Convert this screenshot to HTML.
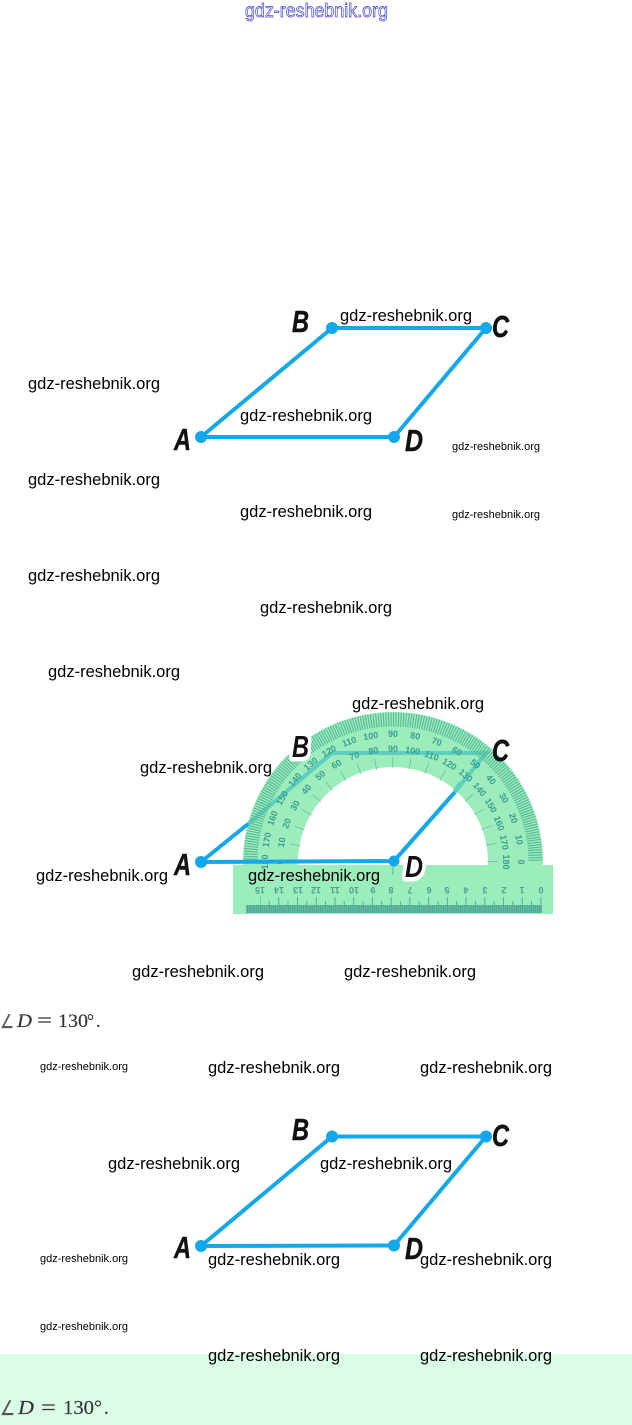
<!DOCTYPE html>
<html><head><meta charset="utf-8"><style>
html,body{margin:0;padding:0;background:#fff}
svg{display:block}
.w{font:16.5px "Liberation Sans",sans-serif;fill:#000}
.s{font:11px "Liberation Sans",sans-serif;fill:#000}
.l{font:italic bold 31px "Liberation Sans",sans-serif;fill:#111;stroke:#111;stroke-width:.5}
.m{font-family:"Liberation Serif",serif;fill:#333;stroke:#333;stroke-width:.15}
.o{font:bold 9px "Liberation Sans",sans-serif;fill:#3a9e92;text-anchor:middle}
.i{font:bold 9px "Liberation Sans",sans-serif;fill:#3a9e92;text-anchor:middle}
.r{font:bold 9px "Liberation Sans",sans-serif;fill:#4aa092;text-anchor:middle}
</style></head><body>
<svg xmlns="http://www.w3.org/2000/svg" width="632" height="1425" viewBox="0 0 632 1425">
<rect x="0" y="1354" width="632" height="71" fill="#dbfde8"/>

<text x="245" y="17" textLength="143" lengthAdjust="spacingAndGlyphs" style="font:19px 'Liberation Sans',sans-serif;fill:#fff;stroke:#4040d8;stroke-width:.7">gdz-reshebnik.org</text>

<!-- Figure 1 -->
<g fill="none" stroke="#14a8ea" stroke-width="4" stroke-linejoin="round"><path d="M201 437L332 328L486 328L394 437Z"/></g>
<g fill="#14a8ea"><circle cx="201" cy="437" r="6"/><circle cx="332" cy="328" r="6"/><circle cx="486" cy="328" r="6"/><circle cx="394" cy="437" r="6"/></g>
<text class="l" x="174" y="450" textLength="17" lengthAdjust="spacingAndGlyphs">A</text>
<text class="l" x="292" y="332" textLength="17" lengthAdjust="spacingAndGlyphs">B</text>
<text class="l" x="492" y="337" textLength="17" lengthAdjust="spacingAndGlyphs">C</text>
<text class="l" x="405" y="451" textLength="18" lengthAdjust="spacingAndGlyphs">D</text>

<!-- Figure 2: protractor -->
<path d="M243 866L243 862A150 150 0 0 1 543 862L543 866L488 866L488 862A95 95 0 0 0 298 862L298 866Z" fill="#9cecbc"/>
<rect x="233" y="865" width="320" height="49" fill="#9cedbc"/>
<path d="M250.500 862A142.500 142.500 0 0 1 535.500 862" fill="none" stroke="#9cecbc" stroke-width="15"/>
<path d="M248 824L332 753L486 753L455 792" fill="none" stroke="#5ccfc0" stroke-width="4"/>
<path d="M250.500 862A142.500 142.500 0 0 1 535.500 862" fill="none" stroke="#55ba98" stroke-width="14" pathLength="180" stroke-dasharray=".45 .55"/>
<path d="M293.500 862A99.500 99.500 0 0 1 492.500 862" fill="none" stroke="#5fb8a0" stroke-width="11" pathLength="180" stroke-dasharray=".4 9.600" stroke-dashoffset=".2"/>

<!-- outer scale -->
<g>
<text class="o" x="393" y="737" transform="rotate(-90 393 862)">180</text>
<text class="o" x="393" y="737" transform="rotate(-80 393 862)">170</text>
<text class="o" x="393" y="737" transform="rotate(-70 393 862)">160</text>
<text class="o" x="393" y="737" transform="rotate(-60 393 862)">150</text>
<text class="o" x="393" y="737" transform="rotate(-50 393 862)">140</text>
<text class="o" x="393" y="737" transform="rotate(-40 393 862)">130</text>
<text class="o" x="393" y="737" transform="rotate(-30 393 862)">120</text>
<text class="o" x="393" y="737" transform="rotate(-20 393 862)">110</text>
<text class="o" x="393" y="737" transform="rotate(-10 393 862)">100</text>
<text class="o" x="393" y="737">90</text>
<text class="o" x="393" y="737" transform="rotate(10 393 862)">80</text>
<text class="o" x="393" y="737" transform="rotate(20 393 862)">70</text>
<text class="o" x="393" y="737" transform="rotate(30 393 862)">60</text>
<text class="o" x="393" y="737" transform="rotate(40 393 862)">50</text>
<text class="o" x="393" y="737" transform="rotate(50 393 862)">40</text>
<text class="o" x="393" y="737" transform="rotate(60 393 862)">30</text>
<text class="o" x="393" y="737" transform="rotate(70 393 862)">20</text>
<text class="o" x="393" y="737" transform="rotate(80 393 862)">10</text>
<text class="o" x="393" y="737" transform="rotate(90 393 862)">0</text>
</g>
<!-- inner scale -->
<g>
<text class="i" x="393" y="752" transform="rotate(-90 393 862)">0</text>
<text class="i" x="393" y="752" transform="rotate(-80 393 862)">10</text>
<text class="i" x="393" y="752" transform="rotate(-70 393 862)">20</text>
<text class="i" x="393" y="752" transform="rotate(-60 393 862)">30</text>
<text class="i" x="393" y="752" transform="rotate(-50 393 862)">40</text>
<text class="i" x="393" y="752" transform="rotate(-40 393 862)">50</text>
<text class="i" x="393" y="752" transform="rotate(-30 393 862)">60</text>
<text class="i" x="393" y="752" transform="rotate(-20 393 862)">70</text>
<text class="i" x="393" y="752" transform="rotate(-10 393 862)">80</text>
<text class="i" x="393" y="752">90</text>
<text class="i" x="393" y="752" transform="rotate(10 393 862)">100</text>
<text class="i" x="393" y="752" transform="rotate(20 393 862)">110</text>
<text class="i" x="393" y="752" transform="rotate(30 393 862)">120</text>
<text class="i" x="393" y="752" transform="rotate(40 393 862)">130</text>
<text class="i" x="393" y="752" transform="rotate(50 393 862)">140</text>
<text class="i" x="393" y="752" transform="rotate(60 393 862)">150</text>
<text class="i" x="393" y="752" transform="rotate(70 393 862)">160</text>
<text class="i" x="393" y="752" transform="rotate(80 393 862)">170</text>
<text class="i" x="393" y="752" transform="rotate(90 393 862)">180</text>
</g>

<!-- ruler -->
<rect x="246" y="905" width="296" height="8" fill="#6cc0a8"/>
<path d="M541.500 909H246" stroke="#4aa493" stroke-width="8" stroke-dasharray="1 .87" fill="none"/>
<path d="M541.500 901H260" stroke="#55ad9a" stroke-width="8" stroke-dasharray="1 17.730" fill="none"/>
<path d="M532 903H260" stroke="#55ad9a" stroke-width="4" stroke-dasharray="1 17.730" fill="none"/>
<path d="M393 865V875" stroke="#55ad9a" stroke-width="1" fill="none"/>
<text class="r" x="541" y="893" transform="rotate(180 541 890)">0</text>
<text class="r" x="522" y="893" transform="rotate(180 522 890)">1</text>
<text class="r" x="504" y="893" transform="rotate(180 504 890)">2</text>
<text class="r" x="485" y="893" transform="rotate(180 485 890)">3</text>
<text class="r" x="466" y="893" transform="rotate(180 466 890)">4</text>
<text class="r" x="447" y="893" transform="rotate(180 447 890)">5</text>
<text class="r" x="429" y="893" transform="rotate(180 429 890)">6</text>
<text class="r" x="410" y="893" transform="rotate(180 410 890)">7</text>
<text class="r" x="391" y="893" transform="rotate(180 391 890)">8</text>
<text class="r" x="373" y="893" transform="rotate(180 373 890)">9</text>
<text class="r" x="354" y="893" transform="rotate(180 354 890)">10</text>
<text class="r" x="335" y="893" transform="rotate(180 335 890)">11</text>
<text class="r" x="316" y="893" transform="rotate(180 316 890)">12</text>
<text class="r" x="298" y="893" transform="rotate(180 298 890)">13</text>
<text class="r" x="279" y="893" transform="rotate(180 279 890)">14</text>
<text class="r" x="260" y="893" transform="rotate(180 260 890)">15</text>

<!-- solid blue on top -->
<path d="M248 824L201 862L394 861L455 792" fill="none" stroke="#14a8ea" stroke-width="4" stroke-linejoin="round"/>
<circle cx="201" cy="862" r="6" fill="#14a8ea"/>
<circle cx="394" cy="861" r="5.500" fill="#14a8ea"/>
<text class="l" x="174" y="875" textLength="17" lengthAdjust="spacingAndGlyphs">A</text>
<text class="l" x="292" y="757" textLength="17" lengthAdjust="spacingAndGlyphs" style="stroke:#fff;stroke-width:9;paint-order:stroke;stroke-linejoin:round">B</text>
<text class="l" x="492" y="761" textLength="17" lengthAdjust="spacingAndGlyphs">C</text>
<text class="l" x="405" y="877" textLength="18" lengthAdjust="spacingAndGlyphs" style="stroke:#fff;stroke-width:9;paint-order:stroke;stroke-linejoin:round">D</text>

<!-- Figure 3 -->
<g fill="none" stroke="#14a8ea" stroke-width="4" stroke-linejoin="round"><path d="M201 1246L332 1136.500L486 1136.500L394 1245.500Z"/></g>
<g fill="#14a8ea"><circle cx="201" cy="1246" r="6"/><circle cx="332" cy="1136.500" r="6"/><circle cx="486" cy="1136.500" r="6"/><circle cx="394" cy="1245.500" r="6"/></g>
<text class="l" x="174" y="1258" textLength="17" lengthAdjust="spacingAndGlyphs">A</text>
<text class="l" x="292" y="1140" textLength="17" lengthAdjust="spacingAndGlyphs">B</text>
<text class="l" x="492" y="1146" textLength="17" lengthAdjust="spacingAndGlyphs">C</text>
<text class="l" x="405" y="1259" textLength="18" lengthAdjust="spacingAndGlyphs">D</text>

<!-- math -->
<text class="m" x="0" y="1028" font-size="19" textLength="14" lengthAdjust="spacingAndGlyphs" fill-opacity=".8">∠</text>
<text class="m" x="17" y="1027" font-size="19" font-style="italic" textLength="15" lengthAdjust="spacingAndGlyphs">D</text>
<text class="m" x="37" y="1027" font-size="20" textLength="15" lengthAdjust="spacingAndGlyphs">=</text>
<text class="m" x="58" y="1027" font-size="19" textLength="30" lengthAdjust="spacingAndGlyphs">130</text>
<text class="m" x="87" y="1027" font-size="19" textLength="7" lengthAdjust="spacingAndGlyphs">°</text>
<text class="m" x="96" y="1027" font-size="18">.</text>

<text class="m" x="0" y="1415" font-size="20" textLength="15" lengthAdjust="spacingAndGlyphs" fill-opacity=".8">∠</text>
<text class="m" x="18" y="1414" font-size="20" font-style="italic" textLength="16" lengthAdjust="spacingAndGlyphs">D</text>
<text class="m" x="41" y="1414" font-size="21" textLength="15" lengthAdjust="spacingAndGlyphs">=</text>
<text class="m" x="63" y="1414" font-size="20" textLength="31" lengthAdjust="spacingAndGlyphs">130</text>
<text class="m" x="94" y="1414" font-size="20" textLength="8" lengthAdjust="spacingAndGlyphs">°</text>
<text class="m" x="104" y="1414" font-size="19">.</text>

<!-- watermarks large -->
<text class="w" x="340" y="321" textLength="132" lengthAdjust="spacingAndGlyphs">gdz-reshebnik.org</text>
<text class="w" x="28" y="389" textLength="132" lengthAdjust="spacingAndGlyphs">gdz-reshebnik.org</text>
<text class="w" x="240" y="421" textLength="132" lengthAdjust="spacingAndGlyphs">gdz-reshebnik.org</text>
<text class="w" x="28" y="485" textLength="132" lengthAdjust="spacingAndGlyphs">gdz-reshebnik.org</text>
<text class="w" x="240" y="517" textLength="132" lengthAdjust="spacingAndGlyphs">gdz-reshebnik.org</text>
<text class="w" x="28" y="581" textLength="132" lengthAdjust="spacingAndGlyphs">gdz-reshebnik.org</text>
<text class="w" x="260" y="613" textLength="132" lengthAdjust="spacingAndGlyphs">gdz-reshebnik.org</text>
<text class="w" x="48" y="677" textLength="132" lengthAdjust="spacingAndGlyphs">gdz-reshebnik.org</text>
<text class="w" x="352" y="709" textLength="132" lengthAdjust="spacingAndGlyphs">gdz-reshebnik.org</text>
<text class="w" x="140" y="773" textLength="132" lengthAdjust="spacingAndGlyphs">gdz-reshebnik.org</text>
<text class="w" x="36" y="881" textLength="132" lengthAdjust="spacingAndGlyphs">gdz-reshebnik.org</text>
<text class="w" x="248" y="881" textLength="132" lengthAdjust="spacingAndGlyphs">gdz-reshebnik.org</text>
<text class="w" x="132" y="977" textLength="132" lengthAdjust="spacingAndGlyphs">gdz-reshebnik.org</text>
<text class="w" x="344" y="977" textLength="132" lengthAdjust="spacingAndGlyphs">gdz-reshebnik.org</text>
<text class="w" x="208" y="1073" textLength="132" lengthAdjust="spacingAndGlyphs">gdz-reshebnik.org</text>
<text class="w" x="420" y="1073" textLength="132" lengthAdjust="spacingAndGlyphs">gdz-reshebnik.org</text>
<text class="w" x="108" y="1169" textLength="132" lengthAdjust="spacingAndGlyphs">gdz-reshebnik.org</text>
<text class="w" x="320" y="1169" textLength="132" lengthAdjust="spacingAndGlyphs">gdz-reshebnik.org</text>
<text class="w" x="208" y="1265" textLength="132" lengthAdjust="spacingAndGlyphs">gdz-reshebnik.org</text>
<text class="w" x="420" y="1265" textLength="132" lengthAdjust="spacingAndGlyphs">gdz-reshebnik.org</text>
<text class="w" x="208" y="1361" textLength="132" lengthAdjust="spacingAndGlyphs">gdz-reshebnik.org</text>
<text class="w" x="420" y="1361" textLength="132" lengthAdjust="spacingAndGlyphs">gdz-reshebnik.org</text>
<!-- watermarks small -->
<text class="s" x="452" y="450" textLength="88" lengthAdjust="spacingAndGlyphs">gdz-reshebnik.org</text>
<text class="s" x="452" y="518" textLength="88" lengthAdjust="spacingAndGlyphs">gdz-reshebnik.org</text>
<text class="s" x="40" y="1070" textLength="88" lengthAdjust="spacingAndGlyphs">gdz-reshebnik.org</text>
<text class="s" x="40" y="1262" textLength="88" lengthAdjust="spacingAndGlyphs">gdz-reshebnik.org</text>
<text class="s" x="40" y="1330" textLength="88" lengthAdjust="spacingAndGlyphs">gdz-reshebnik.org</text>
</svg>
</body></html>
